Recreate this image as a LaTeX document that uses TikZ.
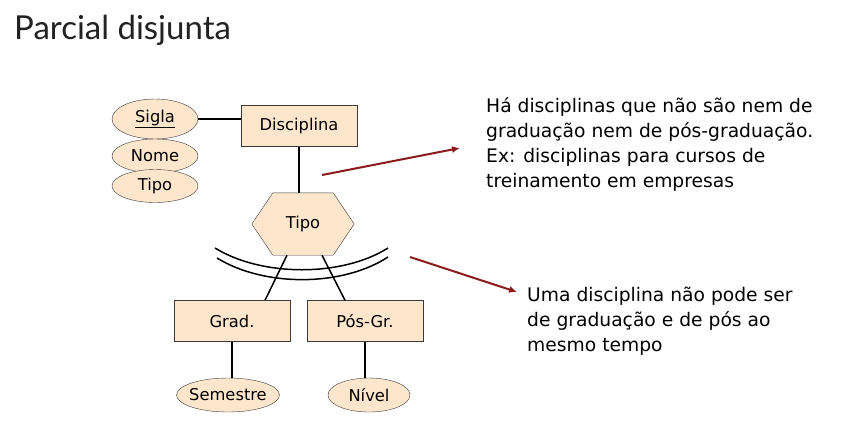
\documentclass[tikz,border=0pt]{standalone}
\usepackage{fontspec}
\setmainfont{DejaVu Sans}
\newfontfamily\titlefont{Lato}
\usetikzlibrary{shapes.geometric,arrows.meta}
\definecolor{peach}{HTML}{FDE6CC}
\definecolor{edgegray}{HTML}{3A3A3A}
\definecolor{darkred}{HTML}{8B1A1A}
\definecolor{titlegray}{HTML}{222222}
\tikzset{
  entity/.style={draw=edgegray, fill=peach, minimum width=116pt, minimum height=41pt, inner sep=0pt, font=\fontsize{16.3}{18}\selectfont},
  attrib/.style={ellipse, draw=edgegray, fill=peach, minimum width=86pt, minimum height=34pt, inner sep=0pt, font=\fontsize{16.3}{18}\selectfont},
  note/.style={align=left, anchor=north west, inner sep=0pt, font=\fontsize{18.7}{25}\selectfont},
  link/.style={line width=2.8pt},
  thinlink/.style={line width=1.5pt},
  pointer/.style={darkred, line width=2pt, -{Latex[length=8pt,width=7pt]}}
}
\begin{document}
\begin{tikzpicture}[x=1pt,y=-1pt]
        \path[use as bounding box] (0,0) rectangle (866,440);
        %title
        \node[anchor=base west, inner sep=0pt, text=titlegray, font=\titlefont\fontsize{33}{36}\selectfont] (title) at (14,39) {Parcial disjunta};

        %attributes of Disciplina
        \node[attrib, minimum height=40pt] (sigla) at (155,119) {\underline{Sigla}};
        \node[attrib] (nome) at (155,156) {Nome};
        \node[attrib, minimum height=33pt] (tipoattr) at (155,186) {Tipo};

        %entities
        \node[entity] (disc) at (299,126) {Disciplina};
        \node[entity] (grad) at (232,321) {Grad.};
        \node[entity] (posgr) at (365,321) {Pós-Gr.};

        %hexagon
        \node[minimum width=102pt, minimum height=62pt, inner sep=0pt, font=\fontsize{16.3}{18}\selectfont] (hex) at (303,224) {};
        \draw[draw=edgegray, fill=peach] (hex.west) -- ([xshift=21pt]hex.north west) -- ([xshift=-21pt]hex.north east)
            -- (hex.east) -- ([xshift=-21pt]hex.south east) -- ([xshift=21pt]hex.south west) -- cycle;
        \node[font=\fontsize{16.3}{18}\selectfont] at (hex) {Tipo};

        %attributes of the subclasses
        \node[attrib, minimum width=103pt, inner xsep=-3pt] (sem) at (228,395) {Semestre};
        \node[attrib, minimum width=82pt] (nivel) at (369,395) {Nível};

        %links
        \draw[link] (sigla.east) -- (sigla.east -| disc.west);
        \draw[link] (disc.south) -- (disc.south |- hex.north);
        \draw[link] (grad.south) -- (grad.south |- sem.north);
        \draw[link] (posgr.south) -- (posgr.south |- nivel.north);
        \draw[thinlink] ([xshift=-16pt]hex.south) -- ([xshift=33pt]grad.north);
        \draw[thinlink] ([xshift=19pt]hex.south) -- ([xshift=-20pt]posgr.north);

        %double arc
        \draw[thinlink] (215,248) .. controls (262,277) and (342,277) .. (388,248);
        \draw[thinlink] (217,258) .. controls (264,287) and (342,287) .. (388,257);

        %notes
        \node[note] (note1) at (486,97) {Há disciplinas que não são nem de\\graduação nem de pós-graduação.\\Ex: disciplinas para cursos de\\treinamento em empresas};
        \node[note] (note2) at (527,287) {Uma disciplina não pode ser\\de graduação e de pós ao\\mesmo tempo};

        %arrows
        \coordinate (a1) at (322,175);
        \coordinate (b1) at (460,148);
        \coordinate (a2) at (410,257);
        \coordinate (b2) at (517,292);
        \draw[pointer] (a1) -- (b1);
        \draw[pointer] (a2) -- (b2);
    \end{tikzpicture}
\end{document}
